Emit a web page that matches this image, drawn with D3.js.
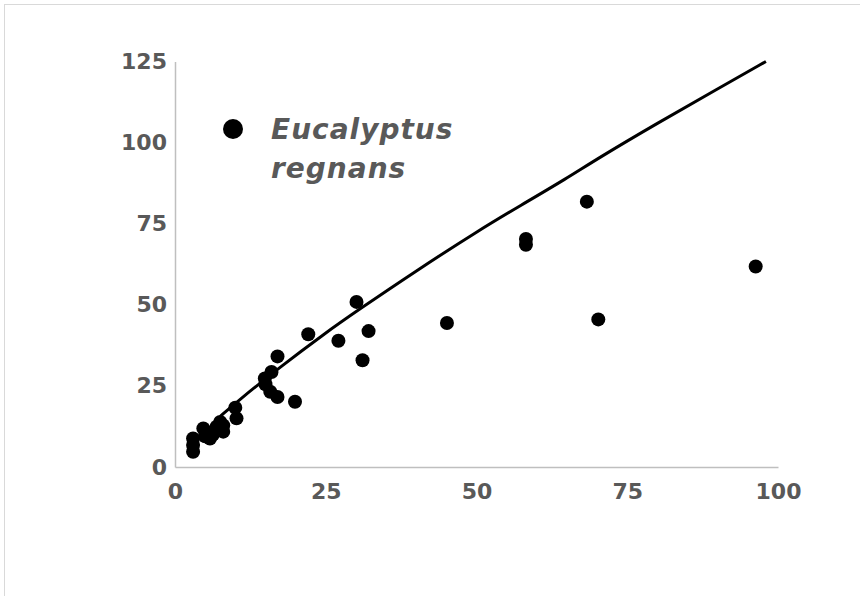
<!DOCTYPE html>
<html><head><meta charset="utf-8">
<script src="https://cdn.jsdelivr.net/npm/d3@7/dist/d3.min.js"></script>
<style>body{margin:0;background:#fff}svg{display:block}</style>
</head><body><svg id="c" width="860" height="596"></svg>
<script>
const xTicks = [0, 25, 50, 75, 100];
const yTicks = [0, 25, 50, 75, 100, 125];
const seriesName = ["Eucalyptus", "regnans"];
const obsX = [3, 3, 3, 4.7, 5, 5.8, 6.3, 6.9, 7.5, 8, 8, 10, 10.2, 14.9, 15, 16, 15.8, 17, 17, 19.9, 22.1, 27.1, 30.1, 31.1, 32.1, 45.1, 58.2, 58.2, 68.3, 70.2, 96.3];
const obsY = [8.8, 6.8, 4.7, 11.9, 9.5, 8.8, 10, 12.4, 13.9, 10.9, 12.8, 18.3, 15, 27.3, 25.5, 29.3, 23.2, 34.1, 21.6, 20.1, 40.9, 38.9, 50.9, 32.9, 41.9, 44.4, 70.3, 68.5, 81.8, 45.5, 61.8];
const fitX = [7.5, 10, 17.4, 25, 30, 40, 50.6, 57.2, 65, 70, 80, 90, 98];
const fitY = [15.6, 19.7, 30.8, 41.4, 47.9, 60.5, 73.2, 80.5, 89, 95, 106, 116.6, 125];

const svg = d3.select("#c");
svg.append("rect").attr("x", 4.5).attr("y", 4.5).attr("width", 900).attr("height", 700)
  .attr("fill", "#fff").attr("stroke", "#d9d9d9").attr("stroke-width", 1);

const x = d3.scaleLinear().domain([0, 100]).range([175, 778]);
const y = d3.scaleLinear().domain([0, 125]).range([467, 61.5]);

const font = "'DejaVu Sans', Verdana, sans-serif";
const gx = svg.append("g").attr("transform", "translate(0,467)")
  .call(d3.axisBottom(x).tickValues(xTicks).tickSize(0).tickPadding(16));
gx.select(".domain").attr("stroke", "#bfbfbf").attr("stroke-width", 1.5);
gx.selectAll("text").attr("font-family", font).attr("font-size", 22).attr("font-weight", "bold").attr("fill", "#595959");

const gy = svg.append("g").attr("transform", "translate(175,0)")
  .call(d3.axisLeft(y).tickValues(yTicks).tickSize(0).tickPadding(8));
gy.select(".domain").attr("stroke", "#bfbfbf").attr("stroke-width", 1.5);
gy.selectAll("text").attr("font-family", font).attr("font-size", 22).attr("font-weight", "bold").attr("fill", "#595959");

const fit = fitX.map((v, i) => [v, fitY[i]]);
svg.append("path").datum(fit)
  .attr("d", d3.line().x(d => x(d[0])).y(d => y(d[1])).curve(d3.curveBasis))
  .attr("fill", "none").attr("stroke", "#000").attr("stroke-width", 3);

svg.append("g").selectAll("circle").data(obsX.map((v, i) => [v, obsY[i]])).join("circle")
  .attr("cx", d => x(d[0])).attr("cy", d => y(d[1])).attr("r", 7).attr("fill", "#000");

svg.append("circle").attr("cx", 233).attr("cy", 129).attr("r", 10).attr("fill", "#000");
const lt = svg.append("text").attr("x", 271).attr("y", 139).attr("font-family", font)
  .attr("font-size", 28).attr("font-weight", "bold").attr("font-style", "italic")
  .attr("letter-spacing", 1).attr("fill", "#595959");
seriesName.forEach((s, i) => lt.append("tspan").attr("x", 271).attr("dy", i ? 39 : 0).text(s));
</script></body></html>
